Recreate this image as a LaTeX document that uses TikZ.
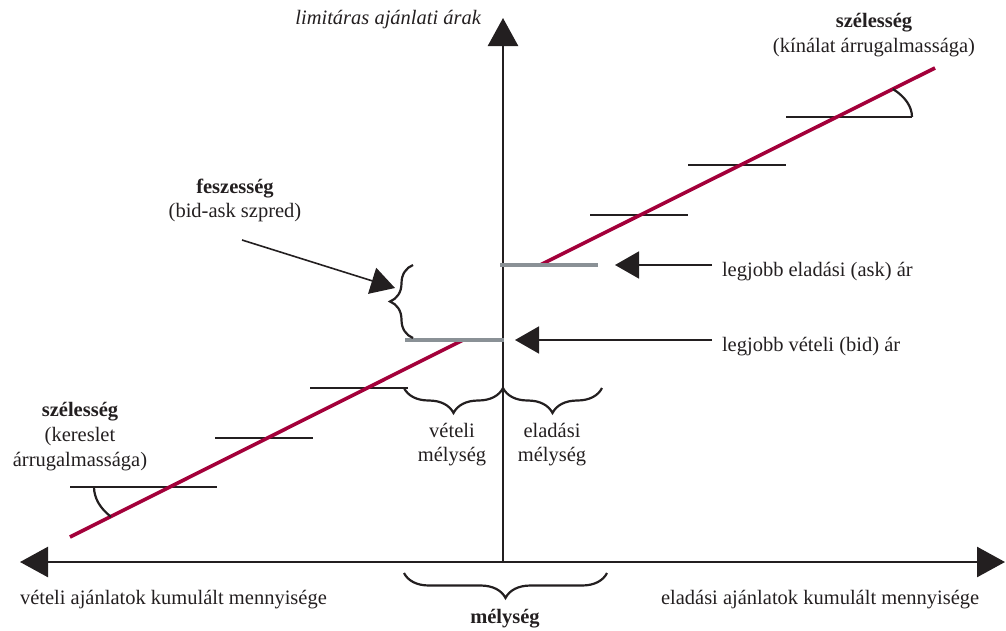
\documentclass[tikz,border=0pt]{standalone}
\usepackage{fontspec}
\setmainfont{Liberation Serif}
\usetikzlibrary{arrows.meta,decorations.pathreplacing}
\definecolor{ink}{HTML}{231F20}
\definecolor{curve}{HTML}{A3003A}
\definecolor{bestgray}{HTML}{8A9196}
\begin{document}
\begin{tikzpicture}[x=1pt,y=1pt,
  every node/.style={inner sep=0pt,outer sep=0pt,text=ink,font=\fontsize{20.5}{25}\selectfont},
  axisline/.style={draw=ink,line width=2.6pt,-{Triangle[length=28pt,width=30pt]}},
  bothaxis/.style={draw=ink,line width=2.6pt,{Triangle[length=28pt,width=30pt]}-{Triangle[length=28pt,width=30pt]}},
  pointer/.style={draw=ink,line width=1.6pt,-{Triangle[length=24pt,width=27pt]}},
  stepline/.style={draw=ink,line width=2.2pt},
  bestline/.style={draw=bestgray,line width=4pt},
  redline/.style={draw=curve,line width=3.6pt},
  bracestyle/.style={draw=ink,line width=2.2pt,decorate,decoration={brace,amplitude=#1}},
  anglearc/.style={draw=ink,line width=2.2pt}
]
\useasboundingbox (0,0) rectangle (1006,-630);
% axes
\coordinate (xl) at (20,-562);
\coordinate (xr) at (1005,-562);
\coordinate (o) at (503,-562);
\coordinate (yt) at (503,-18);
\draw[bothaxis] (xl) -- (xr);
\draw[axisline] (o) -- (yt);
% steps
\coordinate (s1a) at (70,-487);  \coordinate (s1b) at (217,-487);
\coordinate (s2a) at (215,-438); \coordinate (s2b) at (313,-438);
\coordinate (s3a) at (310,-388); \coordinate (s3b) at (408,-388);
\coordinate (s5a) at (590,-215); \coordinate (s5b) at (688,-215);
\coordinate (s6a) at (688,-165); \coordinate (s6b) at (786,-165);
\coordinate (s7a) at (786,-117); \coordinate (s7b) at (912,-117);
\draw[stepline] (s1a) -- (s1b);
\draw[stepline] (s2a) -- (s2b);
\draw[stepline] (s3a) -- (s3b);
\draw[stepline] (s5a) -- (s5b);
\draw[stepline] (s6a) -- (s6b);
\draw[stepline] (s7a) -- (s7b);
% best bid / ask
\coordinate (bida) at (405,-340); \coordinate (bidb) at (504,-340);
\coordinate (aska) at (500,-265); \coordinate (askb) at (598,-265);
% red lines
\coordinate (r1) at (70,-537);  \coordinate (r2) at (463,-340);
\coordinate (r3) at (540,-265); \coordinate (r4) at (935,-68);
\draw[redline] (r1) -- (r2);
\draw[redline] (r3) -- (r4);
\draw[bestline] (bida) -- (bidb);
\draw[bestline] (aska) -- (askb);
% angle arcs
\coordinate (a1) at (94,-487);
\coordinate (a2) at (912,-117);
\draw[anglearc] (a1) arc[start angle=180,end angle=219.3,x radius=75,y radius=47];
\draw[anglearc] (a2) arc[start angle=0,end angle=41.7,x radius=75,y radius=42];
% braces
\coordinate (sp1) at (413,-338); \coordinate (sp2) at (413,-265);
\draw[bracestyle=23pt] (sp1) -- (sp2);
\coordinate (vb1) at (503,-388); \coordinate (vb2) at (404,-388);
\draw[bracestyle=25pt] (vb1) -- (vb2);
\coordinate (eb1) at (602,-388); \coordinate (eb2) at (503,-388);
\draw[bracestyle=25pt] (eb1) -- (eb2);
\coordinate (mb1) at (607,-573); \coordinate (mb2) at (404,-573);
\draw[bracestyle=25pt] (mb1) -- (mb2);
% labels
\node[anchor=east] (ylab) at (481,-20) {\itshape limitáras ajánlati árak};
\node[anchor=base west] (xlabl) at (20,-604) {vételi ajánlatok kumulált mennyisége};
\node[anchor=base west] (xlabr) at (661,-604) {eladási ajánlatok kumulált mennyisége};
\node[align=center] (wl) at (80,-437) {\textbf{szélesség}\\(kereslet\\árrugalmassága)};
\node[align=center] (wr) at (874,-35) {\textbf{szélesség}\\(kínálat árrugalmassága)};
\node[align=center,font=\fontsize{20.5}{24}\selectfont] (tight) at (235,-200) {\textbf{feszesség}\\(bid-ask szpred)};
\node[align=center,font=\fontsize{20.5}{24}\selectfont] (vm) at (452,-445) {vételi\\mélység};
\node[align=center,font=\fontsize{20.5}{24}\selectfont] (em) at (552,-445) {eladási\\mélység};
\node (mel) at (505,-619) {\textbf{mélység}};
\node[anchor=base west] (asklab) at (722,-276) {legjobb eladási (ask) ár};
\node[anchor=base west] (bidlab) at (722,-351) {legjobb vételi (bid) ár};
% pointers
\coordinate (p1s) at (242,-240); \coordinate (p1e) at (395,-288);
\coordinate (p2s) at (712,-265); \coordinate (p2e) at (615,-265);
\coordinate (p3s) at (712,-340); \coordinate (p3e) at (515,-340);
\draw[pointer] (p1s) -- (p1e);
\draw[pointer] (p2s) -- (p2e);
\draw[pointer] (p3s) -- (p3e);
\end{tikzpicture}
\end{document}
